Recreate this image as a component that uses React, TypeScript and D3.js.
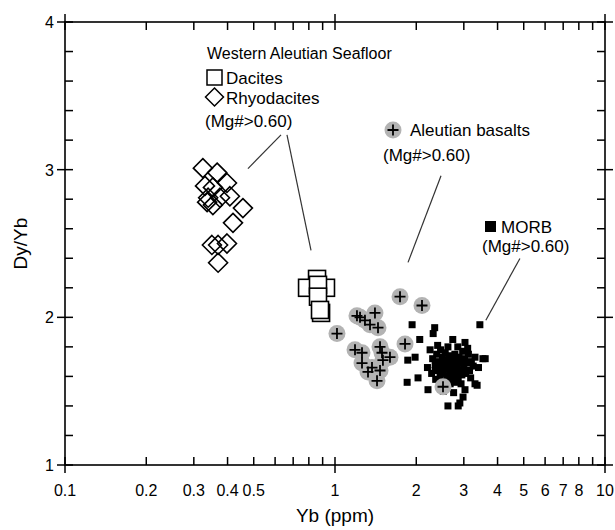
import React from "react";
import * as d3 from "d3";

const W = 615, H = 530;
const M = { left: 65, right: 605, top: 22, bottom: 465 };

const xDomain = [0.1, 10];
const yDomain = [1, 4];
const xTickLabels = [0.1, 0.2, 0.3, 0.4, 0.5, 1, 2, 3, 4, 5, 6, 7, 8, 10];
const xMajor = [0.1, 1, 10];
const xMinor = [0.2, 0.3, 0.4, 0.5, 0.6, 0.7, 0.8, 0.9, 2, 3, 4, 5, 6, 7, 8, 9];
const yMajor = [1, 2, 3, 4];
const yMinor = [1.2, 1.4, 1.6, 1.8, 2.2, 2.4, 2.6, 2.8, 3.2, 3.4, 3.6, 3.8];

// Rhyodacites [Yb, Dy/Yb]
const rhyodacites = [
  [0.324, 3.01], [0.366, 2.98], [0.398, 2.91], [0.33, 2.89], [0.353, 2.88],
  [0.375, 2.81], [0.339, 2.81], [0.336, 2.78], [0.353, 2.76], [0.408, 2.82],
  [0.456, 2.74], [0.419, 2.64], [0.35, 2.49], [0.369, 2.49], [0.398, 2.5],
  [0.369, 2.37],
];
// Dacites
const dacites = [
  [0.858, 2.26], [0.788, 2.2], [0.926, 2.2], [0.865, 2.22], [0.865, 2.14],
  [0.888, 2.03], [0.88, 2.05],
];
// Aleutian basalts
const basalts = [
  [1.017, 1.89], [1.206, 2.01], [1.238, 2.0], [1.406, 2.03], [1.291, 1.98],
  [1.348, 1.95], [1.443, 1.93], [1.186, 1.78], [1.259, 1.76], [1.468, 1.8],
  [1.493, 1.76], [1.598, 1.73], [1.505, 1.71], [1.259, 1.69], [1.371, 1.66],
  [1.325, 1.63], [1.468, 1.64], [1.431, 1.57], [1.817, 1.82], [2.512, 1.53],
  [1.741, 2.14], [2.1, 2.08],
];
// MORB
const morb = [
  [1.93, 1.95], [2.34, 1.93], [2.31, 1.89], [2.06, 1.85], [3.44, 1.95],
  [1.86, 1.71], [1.98, 1.73], [1.85, 1.56], [2.21, 1.51], [2.62, 1.4],
  [2.9, 1.42], [3.36, 1.54], [3.6, 1.72], [3.03, 1.83], [2.73, 1.85],
  [2.03, 1.59], [3.53, 1.72], [3.3, 1.55], [3.03, 1.51], [2.98, 1.46],
  [2.86, 1.4],
  [2.25, 1.78], [2.3, 1.72], [2.35, 1.68], [2.38, 1.75], [2.4, 1.64],
  [2.42, 1.7], [2.45, 1.6], [2.46, 1.78], [2.48, 1.66], [2.5, 1.73],
  [2.52, 1.62], [2.53, 1.69], [2.55, 1.57], [2.56, 1.76], [2.58, 1.65],
  [2.6, 1.71], [2.61, 1.6], [2.63, 1.67], [2.65, 1.74], [2.66, 1.63],
  [2.68, 1.69], [2.7, 1.58], [2.71, 1.72], [2.73, 1.65], [2.75, 1.61],
  [2.77, 1.68], [2.78, 1.75], [2.8, 1.63], [2.82, 1.7], [2.84, 1.66],
  [2.86, 1.59], [2.88, 1.73], [2.9, 1.64], [2.92, 1.69], [2.95, 1.61],
  [2.97, 1.77], [3.0, 1.66], [3.02, 1.72], [3.05, 1.62], [3.08, 1.69],
  [3.12, 1.75], [3.15, 1.64], [3.2, 1.7], [3.25, 1.67], [3.3, 1.73],
  [2.2, 1.66], [2.28, 1.62], [2.36, 1.58], [2.44, 1.55], [2.57, 1.53],
  [2.67, 1.55], [2.79, 1.56], [2.93, 1.55], [2.4, 1.81], [2.62, 1.8],
  [2.85, 1.8], [3.1, 1.79], [2.5, 1.68], [2.72, 1.62], [2.58, 1.7],
  [2.83, 1.6], [2.65, 1.68], [2.76, 1.71], [2.95, 1.7], [2.35, 1.64],
  [3.18, 1.59], [2.52, 1.5], [2.75, 1.49], [3.4, 1.66],
];
// leader lines in data coordinates
const leaders = [
  [[0.476, 3.007], [0.631, 3.236]],
  [[0.664, 3.236], [0.815, 2.453]],
  [[2.47, 2.959], [1.864, 2.372]],
  [[4.84, 2.399], [3.62, 1.98]],
];

const FONT = "'Liberation Sans', Arial, Helvetica, sans-serif";

export default function App() {
  const x = d3.scaleLog().domain(xDomain).range([M.left, M.right]);
  const y = d3.scaleLinear().domain(yDomain).range([M.bottom, M.top]);
  const T = 8;
  const sw = 1.5;
  const diamond = (cx: number, cy: number, r: number) =>
    `M${cx},${cy - r}L${cx + r},${cy}L${cx},${cy + r}L${cx - r},${cy}Z`;
  const cross = (cx: number, cy: number, r: number) =>
    `M${cx - r},${cy}H${cx + r}M${cx},${cy - r}V${cy + r}`;

  return (
    <svg width={W} height={H} style={{ position: "absolute", left: 0, top: 0, background: "#fff" }} fontFamily={FONT}>
      <rect x={0} y={0} width={W} height={H} fill="#fff" />
      {/* frame */}
      <rect x={M.left} y={M.top} width={M.right - M.left} height={M.bottom - M.top} fill="none" stroke="#000" strokeWidth={1.6} />
      {/* x ticks */}
      {xMinor.map((v) => (
        <g key={"xm" + v}>
          <line x1={x(v)} x2={x(v)} y1={M.bottom} y2={M.bottom - T} stroke="#000" strokeWidth={sw} />
          <line x1={x(v)} x2={x(v)} y1={M.top} y2={M.top + T} stroke="#000" strokeWidth={sw} />
        </g>
      ))}
      {xMajor.map((v) => (
        <g key={"xM" + v}>
          <line x1={x(v)} x2={x(v)} y1={M.bottom - T} y2={M.bottom + T} stroke="#000" strokeWidth={sw} />
          <line x1={x(v)} x2={x(v)} y1={M.top - T} y2={M.top + T} stroke="#000" strokeWidth={sw} />
        </g>
      ))}
      {yMinor.map((v) => (
        <g key={"ym" + v}>
          <line x1={M.left} x2={M.left + T} y1={y(v)} y2={y(v)} stroke="#000" strokeWidth={sw} />
          <line x1={M.right} x2={M.right - T} y1={y(v)} y2={y(v)} stroke="#000" strokeWidth={sw} />
        </g>
      ))}
      {yMajor.map((v) => (
        <g key={"yM" + v}>
          <line x1={M.left - T} x2={M.left + T} y1={y(v)} y2={y(v)} stroke="#000" strokeWidth={sw} />
          <line x1={M.right - T} x2={M.right + T} y1={y(v)} y2={y(v)} stroke="#000" strokeWidth={sw} />
        </g>
      ))}
      {/* tick labels */}
      {xTickLabels.map((v) => (
        <text key={"xl" + v} x={x(v)} y={M.bottom + 31} textAnchor="middle" fontSize={16}>{String(v)}</text>
      ))}
      {yMajor.map((v) => (
        <text key={"yl" + v} x={M.left - 11} y={y(v) + 6} textAnchor="end" fontSize={16}>{String(v)}</text>
      ))}
      <text x={(M.left + M.right) / 2} y={522} textAnchor="middle" fontSize={19}>Yb (ppm)</text>
      <text transform={`translate(${27},${(M.top + M.bottom) / 2}) rotate(-90)`} textAnchor="middle" fontSize={19}>Dy/Yb</text>

      {/* leader lines */}
      {leaders.map((l, i) => (
        <line key={"ld" + i} x1={x(l[0][0])} y1={y(l[0][1])} x2={x(l[1][0])} y2={y(l[1][1])} stroke="#333" strokeWidth={1.2} />
      ))}

      {/* MORB */}
      {morb.map((d, i) => (
        <rect key={"mo" + i} x={x(d[0]) - 3.5} y={y(d[1]) - 3.5} width={7} height={7} fill="#000" />
      ))}
      {/* Basalts */}
      {basalts.map((d, i) => (
        <circle key={"bc" + i} cx={x(d[0])} cy={y(d[1])} r={8.5} fill="#b3b3b3" />
      ))}
      {basalts.map((d, i) => (
        <path key={"bx" + i} d={cross(x(d[0]), y(d[1]), 5.5)} stroke="#000" strokeWidth={1.8} fill="none" />
      ))}
      {/* Dacites */}
      {dacites.map((d, i) => (
        <rect key={"da" + i} x={x(d[0]) - 8.5} y={y(d[1]) - 8.5} width={17} height={17} fill="#fff" stroke="#000" strokeWidth={1.6} />
      ))}
      {/* Rhyodacites */}
      {rhyodacites.map((d, i) => (
        <path key={"rh" + i} d={diamond(x(d[0]), y(d[1]), 9.5)} fill="none" stroke="#000" strokeWidth={1.6} />
      ))}

      {/* Legend: Western Aleutian */}
      <text x={207} y={59} fontSize={16}>Western Aleutian Seafloor</text>
      <rect x={207} y={70} width={15} height={15} fill="#fff" stroke="#000" strokeWidth={1.5} />
      <text x={226} y={84} fontSize={17}>Dacites</text>
      <path d={diamond(214.5, 97, 9)} fill="none" stroke="#000" strokeWidth={1.5} />
      <text x={226} y={104} fontSize={17}>Rhyodacites</text>
      <text x={205} y={127} fontSize={17}>(Mg#&gt;0.60)</text>

      {/* Legend: basalts */}
      <circle cx={393} cy={130} r={8.5} fill="#b3b3b3" />
      <path d={cross(393, 130, 5.5)} stroke="#000" strokeWidth={1.8} fill="none" />
      <text x={410} y={136} fontSize={17}>Aleutian basalts</text>
      <text x={383} y={161} fontSize={17}>(Mg#&gt;0.60)</text>

      {/* Legend: MORB */}
      <rect x={485} y={221} width={11} height={11} fill="#000" />
      <text x={501} y={233} fontSize={17}>MORB</text>
      <text x={482} y={252} fontSize={17}>(Mg#&gt;0.60)</text>
    </svg>
  );
}
